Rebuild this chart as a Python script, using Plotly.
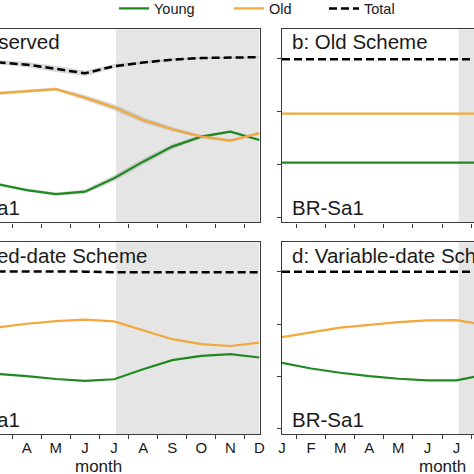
import plotly.graph_objects as go

# ---------------- data ----------------
months_left = [3, 4, 5, 6, 7, 8, 9, 10, 11, 12]      # visible part of panels a, c
months_right = [1, 2, 3, 4, 5, 6, 7, 8]               # visible part of panels b, d
month_labels = ["J", "F", "M", "A", "M", "J", "J", "A", "S", "O", "N", "D"]

# a: Observed
obs_young = [1.25, 1.02, 0.87, 0.96, 1.47, 2.10, 2.67, 3.05, 3.24, 2.92]
obs_old = [4.69, 4.78, 4.85, 4.53, 4.16, 3.68, 3.33, 3.05, 2.90, 3.18]
obs_total = [5.87, 5.78, 5.62, 5.45, 5.72, 5.86, 5.97, 6.03, 6.05, 6.06]
obs_young_sd = [0.05, 0.05, 0.06, 0.08, 0.12, 0.12, 0.10, 0.06, 0.05, 0.05]
obs_old_sd = [0.06, 0.06, 0.06, 0.10, 0.12, 0.10, 0.08, 0.06, 0.05, 0.05]
obs_total_sd = [0.08, 0.10, 0.12, 0.10, 0.08, 0.05, 0.04, 0.03, 0.03, 0.03]

# b: Old Scheme
old_young = [2.06, 2.06, 2.06, 2.06, 2.06, 2.06, 2.06, 2.06]
old_old = [3.92, 3.92, 3.92, 3.92, 3.92, 3.92, 3.92, 3.92]
old_total = [5.98, 5.98, 5.98, 5.98, 5.98, 5.98, 5.98, 5.98]

# c: Fixed-date Scheme
fix_young = [2.09, 2.01, 1.90, 1.83, 1.89, 2.27, 2.62, 2.78, 2.85, 2.72]
fix_old = [3.87, 4.01, 4.11, 4.17, 4.10, 3.76, 3.42, 3.23, 3.16, 3.29]
fix_total = [6.01, 6.01, 6.00, 6.00, 5.98, 5.98, 5.98, 5.98, 5.98, 5.98]

# d: Variable-date Scheme
var_young = [2.52, 2.30, 2.14, 2.01, 1.91, 1.85, 1.85, 2.07]
var_old = [3.50, 3.69, 3.86, 3.97, 4.07, 4.14, 4.15, 3.95]
var_total = [6.00, 6.00, 6.00, 6.00, 6.00, 6.00, 6.00, 6.00]

dry_start, dry_end = 7.07, 12
panel_titles = ["a: Observed", "b: Old Scheme", "c: Fixed-date Scheme", "d: Variable-date Scheme"]
site = "BR-Sa1"

# ---------------- style ----------------
GREEN = "#1f8a1f"
ORANGE = "#f2a83a"
FRAME = "#3a3a3a"
SHADE = "#e5e5e5"
FONT = "Liberation Sans, Arial, sans-serif"
H = 474.0

def py(px):
    return 1 - px / H

def pxx(px):
    return px / H

fig = go.Figure()

panels = [
    ("x", "y", months_left, obs_young, obs_old, obs_total, True),
    ("x2", "y2", months_right, old_young, old_old, old_total, False),
    ("x3", "y3", months_left, fix_young, fix_old, fix_total, False),
    ("x4", "y4", months_right, var_young, var_old, var_total, False),
]

# grey uncertainty halos for observed
for vals, sd in [(obs_total, obs_total_sd), (obs_old, obs_old_sd), (obs_young, obs_young_sd)]:
    up = [v + s for v, s in zip(vals, sd)]
    lo = [v - s for v, s in zip(vals, sd)]
    fig.add_trace(go.Scatter(x=months_left + months_left[::-1], y=up + lo[::-1],
                             fill="toself", fillcolor="rgba(150,150,150,0.35)",
                             line=dict(width=0), mode="lines", hoverinfo="skip",
                             showlegend=False, xaxis="x", yaxis="y"))

for i, (xa, ya, mx, yg, yo, yt, first) in enumerate(panels):
    fig.add_trace(go.Scatter(x=mx, y=yg, mode="lines", name="Young",
                             line=dict(color=GREEN, width=2.2),
                             showlegend=first, legend="legend", xaxis=xa, yaxis=ya))
    fig.add_trace(go.Scatter(x=mx, y=yo, mode="lines", name="Old",
                             line=dict(color=ORANGE, width=2.2),
                             showlegend=first, legend="legend2", xaxis=xa, yaxis=ya))
    fig.add_trace(go.Scatter(x=mx, y=yt, mode="lines", name="Total",
                             line=dict(color="black", width=2.5, dash="8px,4px"),
                             showlegend=first, legend="legend3", xaxis=xa, yaxis=ya))

# shaded dry season
for xa, ya in [("x", "y"), ("x2", "y2"), ("x3", "y3"), ("x4", "y4")]:
    fig.add_shape(type="rect", xref=xa, yref=ya + " domain", x0=dry_start, x1=dry_end,
                  y0=0, y1=1, fillcolor=SHADE, line=dict(width=0), layer="below")

left_dom = [0, pxx(259.5)]
right_dom = [pxx(282), 1]
top_dom = [py(222.3), py(29.3)]
bot_dom = [py(434), py(242.3)]
yr = [-0.2, 7.12]
half = [m + 0.5 for m in range(1, 12)]

def xax(dom, anchor, rng, labels):
    return dict(domain=dom, anchor=anchor, range=rng, showline=True, mirror=True,
                linecolor=FRAME, linewidth=1.4, showgrid=False, zeroline=False,
                tickmode="array", tickvals=list(range(1, 13)), ticktext=month_labels,
                ticks="", showticklabels=labels, ticklabelstandoff=0,
                tickfont=dict(family=FONT, size=15, color="#1a1a1a"),
                minor=dict(tickmode="array", tickvals=half, ticks="outside",
                           ticklen=4, tickcolor=FRAME, tickwidth=1.2, showgrid=False))

def yax(dom, anchor, left):
    d = dict(domain=dom, anchor=anchor, range=yr, showgrid=False, zeroline=False,
             showticklabels=False, linecolor=FRAME, linewidth=1.4, showline=True)
    if left:
        d.update(side="left", ticks="outside", ticklen=4, tickcolor=FRAME, tickwidth=1.2,
                 tickmode="array", tickvals=[0, 2, 4, 6])
    else:
        d.update(side="right", ticks="")
    return d

fig.update_layout(
    width=474, height=474,
    margin=dict(l=0, r=0, t=0, b=0, autoexpand=False),
    paper_bgcolor="white", plot_bgcolor="white",
    font=dict(family=FONT, color="#1a1a1a"),
    xaxis=xax(left_dom, "y", [3.08, 12], False),
    yaxis=yax(top_dom, "x", False),
    xaxis2=xax(right_dom, "y2", [1, 7.6], False),
    yaxis2=yax(top_dom, "x2", True),
    xaxis3=xax(left_dom, "y3", [3.08, 12], True),
    yaxis3=yax(bot_dom, "x3", False),
    xaxis4=xax(right_dom, "y4", [1, 7.6], True),
    yaxis4=yax(bot_dom, "x4", True),
)

leg_common = dict(orientation="h", yanchor="middle", xanchor="left", y=py(8.5),
                  bgcolor="rgba(0,0,0,0)", borderwidth=0,
                  font=dict(family=FONT, size=14.5, color="#1a1a1a"))
fig.update_layout(legend=dict(x=pxx(114), **leg_common),
                  legend2=dict(x=pxx(229), **leg_common),
                  legend3=dict(x=pxx(324), **leg_common))

# panel titles and site labels
title_pos = [(-54, 41.5), (290, 41.5), (-54, 256), (290, 256)]
site_pos = [(-54, 207), (290, 207), (-54, 419.5), (290, 419.5)]
for t, (tx, ty), (sx, sy) in zip(panel_titles, title_pos, site_pos):
    fig.add_annotation(text=t, x=pxx(tx), y=py(ty), xref="paper", yref="paper",
                       xanchor="left", yanchor="middle", showarrow=False,
                       font=dict(family=FONT, size=20.5, color="#1a1a1a"))
    fig.add_annotation(text=site, x=pxx(sx), y=py(sy), xref="paper", yref="paper",
                       xanchor="left", yanchor="middle", showarrow=False,
                       font=dict(family=FONT, size=20.5, color="#1a1a1a"))

# x axis titles centred on full panel widths
for cx in [98.7, 442.5]:
    fig.add_annotation(text="month", x=pxx(cx), y=py(466.5), xref="paper", yref="paper",
                       xanchor="center", yanchor="middle", showarrow=False,
                       font=dict(family=FONT, size=17, color="#1a1a1a"))

fig.write_html("out.html", config={"displayModeBar": False},
               post_script="document.body.style.margin='0px';")
